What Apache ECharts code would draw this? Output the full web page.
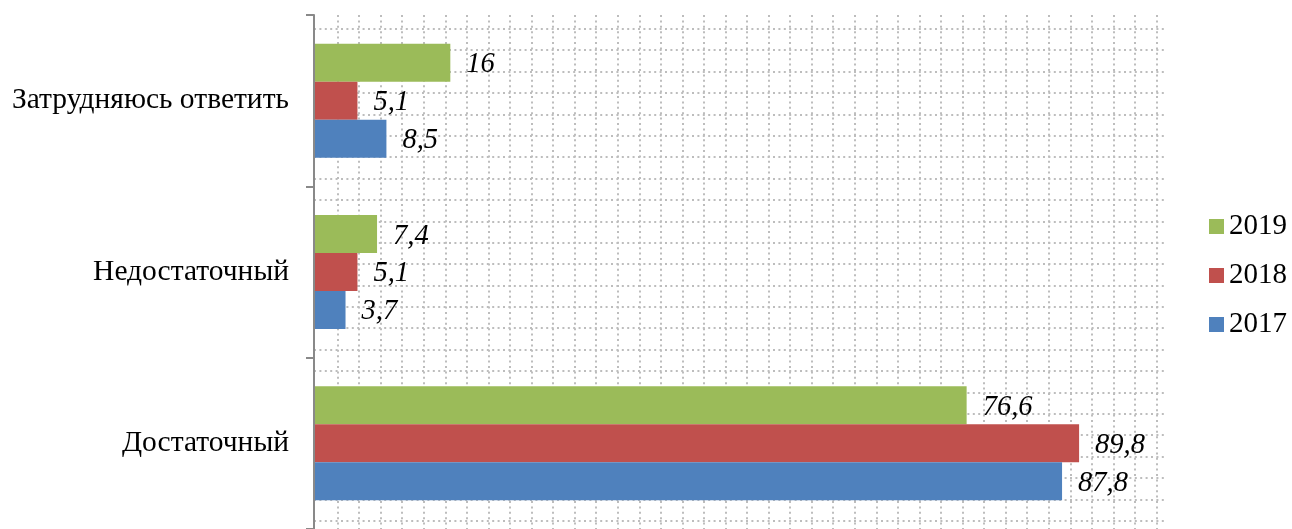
<!DOCTYPE html>
<html>
<head>
<meta charset="utf-8">
<script src="https://cdn.jsdelivr.net/npm/echarts@6/dist/echarts.min.js"></script>
<style>html,body{margin:0;padding:0;background:#fff;}#c{width:1292px;height:529px;}</style>
</head>
<body>
<div id="c"></div>
<script>
const categories = ['Достаточный', 'Недостаточный', 'Затрудняюсь ответить'];
const years = ['2019', '2018', '2017'];
const values2017 = [87.8, 3.7, 8.5];
const values2018 = [89.8, 5.1, 5.1];
const values2019 = [76.6, 7.4, 16];
const legendOrder = ['2019', '2018', '2017'];
const colors = { '2017': '#4F81BD', '2018': '#C0504D', '2019': '#9BBB59' };
const seriesValues = { '2017': values2017, '2018': values2018, '2019': values2019 };

const FONT = '"Liberation Serif", "Times New Roman", serif';
const STEP = 21.55;
const dotLine = { show: true, showMinLine: false, showMaxLine: false, lineStyle: { color: '#bdbdbd', width: 2, type: [2, 3.4] } };

const chart = echarts.init(document.getElementById('c'), null, { renderer: 'canvas' });
chart.setOption({
  animation: false,
  backgroundColor: '#ffffff',
  grid: [
    { left: 314, right: 126, top: 15, bottom: -4 },
    { left: 316, right: 126, top: 15, bottom: -4 },
    { left: 314, right: 126, top: 7.4, bottom: -4 }
  ],
  legend: {
    data: legendOrder,
    orient: 'vertical',
    left: 1209,
    top: 212,
    padding: 0,
    itemWidth: 15,
    itemHeight: 15,
    itemGap: 20,
    itemTextGap: 7,
    icon: 'rect',
    textStyle: { fontFamily: FONT, fontSize: 29, color: '#000' }
  },
  xAxis: [
    { type: 'value', gridIndex: 0, min: 0, max: 100, show: false },
    { type: 'value', gridIndex: 1, min: 0, max: 850 / STEP, interval: 1, axisLine: { show: false }, axisTick: { show: false }, axisLabel: { show: false }, splitLine: dotLine },
    { type: 'value', gridIndex: 2, min: 0, max: 1, show: false }
  ],
  yAxis: [
    {
      type: 'category', gridIndex: 0, data: categories,
      axisLine: { show: true, lineStyle: { color: '#898989', width: 2 } },
      axisTick: { show: true, length: 8, lineStyle: { color: '#898989', width: 2 } },
      axisLabel: { fontFamily: FONT, fontSize: 29.5, color: '#000', margin: 25 },
      splitLine: { show: false }, z: 5
    },
    { type: 'value', gridIndex: 1, min: 0, max: 1, show: false },
    { type: 'value', gridIndex: 2, inverse: true, min: 0, max: (533 - 7.4) / STEP, interval: 1, axisLine: { show: false }, axisTick: { show: false }, axisLabel: { show: false }, splitLine: dotLine }
  ],
  series: years.map(y => ({
    name: y,
    type: 'bar',
    xAxisIndex: 0,
    yAxisIndex: 0,
    data: seriesValues[y],
    barGap: '0%',
    barCategoryGap: '33.5%',
    itemStyle: { color: colors[y] },
    label: {
      show: true,
      position: 'right',
      distance: 16,
      offset: [0, 2],
      fontFamily: FONT,
      fontStyle: 'italic',
      fontSize: 28.5,
      color: '#000',
      formatter: p => String(p.value).replace('.', ',')
    },
    z: 3
  }))
});
</script>
</body>
</html>
